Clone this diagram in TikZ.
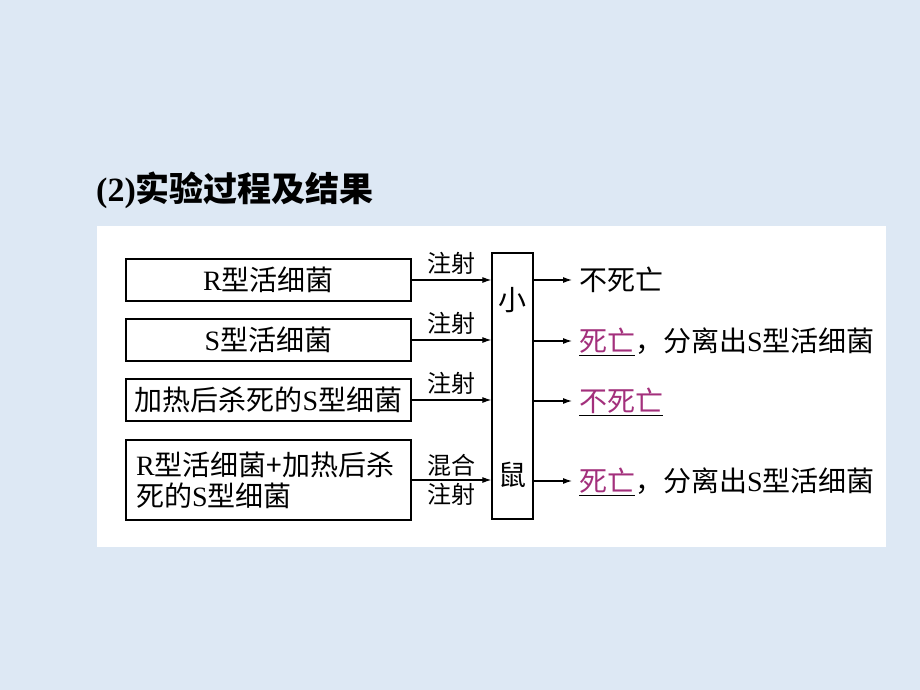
\documentclass[tikz,border=0pt]{standalone}
\usepackage{fontspec}
\setmainfont{Liberation Serif}
\newfontfamily\cjk{Noto Sans CJK SC}
\usetikzlibrary{arrows.meta}
\definecolor{bgblue}{HTML}{DDE8F4}
\definecolor{answer}{HTML}{A3307C}
\newcommand{\lat}[1]{{\rmfamily #1}}
\newcommand{\ans}[1]{\underline{\textcolor{answer}{#1}}}

\begin{document}
\begin{tikzpicture}[x=1pt, y=-1pt, >={Latex[length=9pt,width=6pt]},
  zh/.style={font=\fontsize{28}{31}\selectfont\cjk},
  cell/.style={zh, draw, line width=1.3pt, minimum width=285pt, minimum height=42pt,
    inner sep=0pt, text height=23pt, text depth=2pt},
  lbl/.style={font=\fontsize{24}{26}\selectfont\cjk, inner sep=0pt, text height=20pt, text depth=2pt},
  res/.style={zh, anchor=west, inner xsep=7pt, inner ysep=0pt, text height=23pt, text depth=2pt}]
\useasboundingbox[fill=bgblue] (0,0) rectangle (920,690);
\fill[white] (97,226) rectangle (886,547);
\node[anchor=west, inner sep=0pt, font=\fontsize{34}{38}\selectfont\bfseries] (title) at (96,190) {(2){\cjk 实验过程及结果}};
%
% bacteria
\node[cell] (rlive) at (268.5,280) {\lat{R}型活细菌};
\node[cell] (slive) at (268.5,340) {\lat{S}型活细菌};
\node[cell] (sdead) at (268.5,400) {加热后杀死的\lat{S}型细菌};
\node[zh, draw, line width=1.3pt, minimum width=285pt, minimum height=80pt, inner xsep=10pt,
  align=left, text width=265pt] (mix) at (268.5,480) {\lat{R}型活细菌+加热后杀\\死的\lat{S}型细菌};
%
% mouse
\node[draw, line width=1.3pt, minimum width=41pt, minimum height=266pt, inner sep=0pt] (mouse) at (512.5,386) {};
\node[zh, inner sep=0pt] (xiao) at (512.5,300) {小};
\node[zh, inner sep=0pt] (shu) at (512.5,475) {鼠};
%
% results
\node[res] (res1) at (572,280) {不死亡};
\node[res] (res2) at (572,341) {\ans{死亡}，分离出\lat{S}型活细菌};
\node[res] (res3) at (572,401) {\ans{不死亡}};
\node[res] (res4) at (572,481) {\ans{死亡}，分离出\lat{S}型活细菌};
%
\draw[->, line width=1.1pt](rlive) -- (rlive -| mouse.west) node[lbl, pos=0.5, above=5pt]{注射};
\draw[->, line width=1.1pt](slive) -- (slive -| mouse.west) node[lbl, pos=0.5, above=5pt]{注射};
\draw[->, line width=1.1pt](sdead) -- (sdead -| mouse.west) node[lbl, pos=0.5, above=5pt]{注射};
\draw[->, line width=1.1pt](mix) -- (mix -| mouse.west) node[lbl, pos=0.5, above=3pt]{混合} node[lbl, pos=0.5, below=3pt]{注射};
%
\draw[->, line width=1.1pt](mouse.east |- res1.west) -- (res1.west);
\draw[->, line width=1.1pt](mouse.east |- res2.west) -- (res2.west);
\draw[->, line width=1.1pt](mouse.east |- res3.west) -- (res3.west);
\draw[->, line width=1.1pt](mouse.east |- res4.west) -- (res4.west);
\end{tikzpicture}
\end{document}
